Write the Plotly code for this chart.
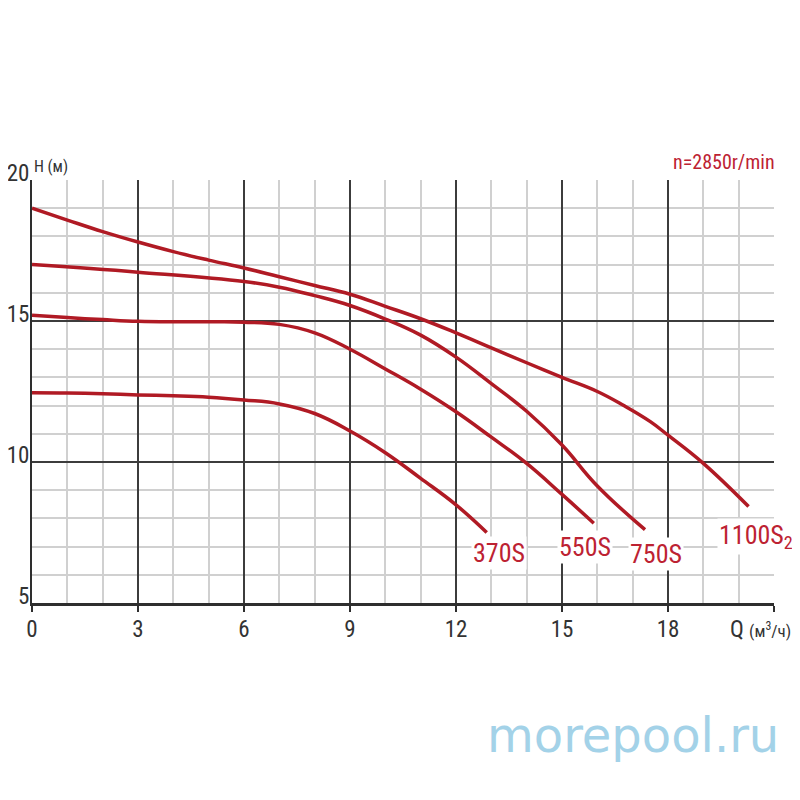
import plotly.graph_objects as go

# ---- data ----
q_1100 = [0, 1, 2, 3, 4, 5, 6, 7, 8, 9, 10, 11, 12, 13, 14, 15, 16, 16.75, 17.5, 18, 19, 20.28]
h_1100 = [19.0, 18.58, 18.17, 17.8, 17.46, 17.16, 16.88, 16.57, 16.26, 15.95, 15.52, 15.08, 14.58, 14.05, 13.52, 13.0, 12.5, 12.0, 11.43, 10.95, 9.95, 8.42]

q_750 = [0, 3, 6, 7, 8, 9, 10, 11, 12, 13, 14, 15, 16, 17.35]
h_750 = [17.0, 16.73, 16.4, 16.2, 15.9, 15.55, 15.07, 14.5, 13.72, 12.78, 11.8, 10.6, 9.15, 7.6]

q_550 = [0, 1, 2, 3, 4, 5, 6, 7, 8, 9, 10, 11, 12, 13, 14, 15, 15.9]
h_550 = [15.2, 15.12, 15.05, 14.99, 14.97, 14.97, 14.96, 14.88, 14.58, 14.0, 13.3, 12.58, 11.78, 10.88, 9.95, 8.85, 7.83]

q_370 = [0, 1, 2, 3, 4, 5, 6, 7, 8, 9, 10, 11, 12, 12.87]
h_370 = [12.46, 12.45, 12.42, 12.38, 12.35, 12.3, 12.2, 12.06, 11.72, 11.1, 10.33, 9.42, 8.48, 7.5]

series_names = ["1100S<sub>2</sub>", "750S", "550S", "370S"]
series_q = [q_1100, q_750, q_550, q_370]
series_h = [h_1100, h_750, h_550, h_370]

# label anchor positions (data coords)
label_q = [19.38, 17.66, 15.64, 13.22]
label_h = [7.35, 6.74, 6.97, 6.77]
label_anchor = ["left", "center", "center", "center"]

x_tickvals = [0, 3, 6, 9, 12, 15, 18, 21]
x_ticktext = ["0", "3", "6", "9", "12", "15", "18", ""]
y_tickvals = [5, 10, 15, 20]
y_ticktext = ["5", "10", "15", "20"]

CURVE = "#b01a24"
TEXT_RED = "#bd2232"
NARROW = "Liberation Sans Narrow, Arial Narrow, Roboto Condensed, sans-serif"

fig = go.Figure()
for q, h in zip(series_q, series_h):
    fig.add_trace(go.Scatter(x=q, y=h, mode="lines",
                             line=dict(color=CURVE, width=3.5, shape="spline", smoothing=1.2),
                             showlegend=False, hoverinfo="skip"))

for name, lq, lh, anc in zip(series_names, label_q, label_h, label_anchor):
    fig.add_annotation(x=lq, y=lh, xref="x", yref="y", text=name, showarrow=False,
                       xanchor=anc, yanchor="middle",
                       font=dict(family=NARROW, size=26, color=TEXT_RED),
                       bgcolor="white", borderpad=1)

fig.add_annotation(x=0, y=1.031, xref="paper", yref="paper", text="H (м)", showarrow=False,
                   xanchor="left", yanchor="middle",
                   font=dict(family=NARROW, size=16, color="#333333"))
fig.add_annotation(x=1.004, y=1.043, xref="paper", yref="paper", text="n=2850r/min", showarrow=False,
                   xanchor="right", yanchor="middle",
                   font=dict(family=NARROW, size=20, color=TEXT_RED))
fig.add_annotation(x=0.938, y=-0.0615, xref="paper", yref="paper",
                   text="Q <span style='font-size:17px'>(м<sup>3</sup>/ч)</span>", showarrow=False,
                   xanchor="left", yanchor="middle",
                   font=dict(family=NARROW, size=23, color="#333333"))
fig.add_annotation(x=0.81, y=-0.312, xref="paper", yref="paper", text="morepool.ru", showarrow=False,
                   xanchor="center", yanchor="middle",
                   font=dict(family="DejaVu Sans, sans-serif", size=48, color="#a3d2e8"))

fig.update_xaxes(range=[0, 21], tickmode="array", tickvals=x_tickvals, ticktext=x_ticktext,
                 showgrid=True, gridcolor="#3c3c3c", gridwidth=1.5,
                 minor=dict(dtick=1, showgrid=True, gridcolor="#d0d0d0", gridwidth=1.5),
                 showline=True, linecolor="#2e2e2e", linewidth=3,
                 ticks="outside", ticklen=6, tickcolor="#2e2e2e", tickwidth=1.5,
                 zeroline=False, ticklabelstandoff=-3, automargin=False,
                 tickfont=dict(family=NARROW, size=23, color="#333333"), fixedrange=True)
fig.update_yaxes(range=[5, 20], tickmode="array", tickvals=y_tickvals, ticktext=y_ticktext,
                 showgrid=True, gridcolor="#3c3c3c", gridwidth=1.5,
                 minor=dict(dtick=1, showgrid=True, gridcolor="#d0d0d0", gridwidth=1.5),
                 showline=True, linecolor="#2e2e2e", linewidth=2,
                 ticks="", zeroline=False, ticklabelshift=-7, ticklabelstandoff=-4, automargin=False,
                 tickfont=dict(family=NARROW, size=23, color="#333333"), fixedrange=True)

# the page body adds an 8px offset, so the figure is 784 px and margins are reduced by 8
fig.update_layout(width=784, height=784, autosize=False,
                  margin=dict(l=24, r=18, t=172, b=189),
                  paper_bgcolor="white", plot_bgcolor="white")

fig.write_html("out.html")
